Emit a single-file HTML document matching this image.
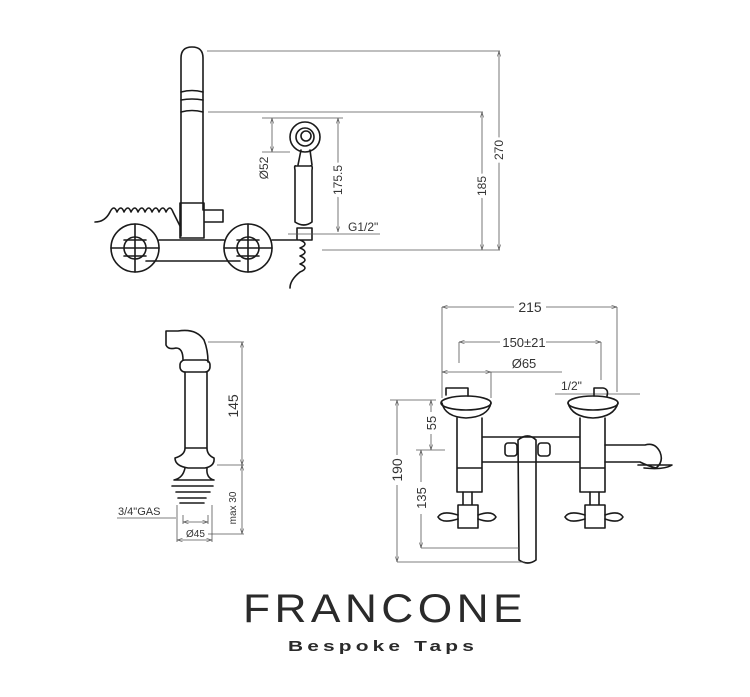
<!DOCTYPE html>
<html><head><meta charset="utf-8"><style>
html,body{margin:0;padding:0;background:#fff;width:750px;height:697px;overflow:hidden}
svg{display:block}
.o{fill:none;stroke:#1a1a1a;stroke-width:1.6;stroke-linecap:round;stroke-linejoin:round}
.d{fill:none;stroke:#555;stroke-width:0.8}
text{font-family:"Liberation Sans",sans-serif;fill:#333;font-size:12px}
</style></head><body>
<svg width="750" height="697" viewBox="0 0 750 697">
<defs><marker id="a" viewBox="0 0 10 10" refX="10" refY="5" markerWidth="7" markerHeight="7" orient="auto-start-reverse"><path d="M0,2 L10,5 L0,8" fill="none" stroke="#555" stroke-width="1"/></marker></defs>

<!-- TOP VIEW -->
<path class="o" d="M181,236 V58 Q181,47 192,47 Q203,47 203,58 V210"/>
<path class="o" d="M181,92 Q192,89 203,92 M181,100 Q192,98 203,100 M181,112 Q192,109 203,112"/>
<path class="o" d="M180,203 H204 V238 H180 Z M204,210 H223 V222 H204"/>
<path class="o" d="M95,222 Q105,222 110,212 q4,-8 7,0 q4,-8 7,0 q4,-8 7,0 q4,-8 7,0 q4,-8 7,0 q4,-8 7,0 q4,-8 7,0 q4,-8 7,0 q4,-8 7,0 L180,226"/>
<circle class="o" cx="135" cy="248" r="24"/><circle class="o" cx="135" cy="248" r="11"/>
<path class="o" d="M111,248 H159 M135,224 V272 M124,240 H146 M124,256 H146"/>
<circle class="o" cx="248" cy="248" r="24"/><circle class="o" cx="248" cy="248" r="11"/>
<path class="o" d="M224,248 H272 M248,224 V272 M237,240 H259 M237,256 H259"/>
<path class="o" d="M146,261 H240 M159,240 H224 M272,240 H296"/>
<circle class="o" cx="305" cy="137" r="15"/><circle class="o" cx="305" cy="137" r="9"/><circle class="o" cx="306" cy="136" r="5"/>
<path class="o" d="M301,150 L298,165 M310,150 L312,165 M296,166 Q294,165 295,170 V222 Q304,228 312,222 V170 Q313,165 310,166 Z"/>
<path class="o" d="M297,228 H312 V240 H297 Z M300,240 q10,4 0,8 q10,4 0,8 q10,4 0,8 q10,4 0,8 Q290,280 290,288"/>
<path class="d" d="M207,51 H500 M208,112 H483 M322,250 H500 M288,234 H380 M262,118 H343 M262,152 H290"/>
<path class="d" d="M499,51 V250" marker-start="url(#a)" marker-end="url(#a)"/>
<path class="d" d="M482,112 V250" marker-start="url(#a)" marker-end="url(#a)"/>
<path class="d" d="M338,118 V232" marker-start="url(#a)" marker-end="url(#a)"/>
<path class="d" d="M272,118 V152" marker-start="url(#a)" marker-end="url(#a)"/>
<text transform="translate(503,150) rotate(-90)" text-anchor="middle" style="fill:#fff;stroke:#fff;stroke-width:6">270</text>
<text transform="translate(503,150) rotate(-90)" text-anchor="middle">270</text>
<text transform="translate(486,186) rotate(-90)" text-anchor="middle" style="fill:#fff;stroke:#fff;stroke-width:6">185</text>
<text transform="translate(486,186) rotate(-90)" text-anchor="middle">185</text>
<text transform="translate(342,180) rotate(-90)" text-anchor="middle" style="fill:#fff;stroke:#fff;stroke-width:6">175.5</text>
<text transform="translate(342,180) rotate(-90)" text-anchor="middle">175.5</text>
<text transform="translate(268,168) rotate(-90)" text-anchor="middle">Ø52</text>
<text x="348" y="231">G1/2"</text>

<!-- SIDE VIEW -->
<path class="o" d="M166,331 H178 Q196,328 204,340 Q208,350 208,362 M166,331 V345 Q168,350 176,348 Q183,348 183,360"/>
<rect class="o" x="180" y="360" width="30" height="12" rx="5"/>
<path class="o" d="M185,372 V448 M207,372 V448 M185,448 H207 Q207,455 214,458 Q215,466 205,468 H188 Q175,466 175,458 Q185,455 185,448"/>
<path class="o" d="M185,468 Q183,478 174,480 H214 Q206,478 207,468 M172,486 H213 M176,492 H210 M178,498 H206 M180,503 H204"/>
<path class="d" d="M208,342 H244 M217,465 H244 M208,534 H244"/>
<path class="d" d="M242,342 V465" marker-start="url(#a)" marker-end="url(#a)"/>
<path class="d" d="M242,465 V534" marker-start="url(#a)" marker-end="url(#a)"/>
<path class="d" d="M183,522 H208" marker-start="url(#a)" marker-end="url(#a)"/>
<path class="d" d="M177,540 H212" marker-start="url(#a)" marker-end="url(#a)"/>
<path class="d" d="M117,518 H176 M177,505 V542 M212,505 V542 M183,515 V524 M208,515 V524"/>
<text transform="translate(238,406) rotate(-90)" text-anchor="middle" style="font-size:14px">145</text>
<text transform="translate(236,508) rotate(-90)" text-anchor="middle" style="font-size:10px">max 30</text>
<text x="118" y="515" style="font-size:11px">3/4"GAS</text>
<text x="186" y="537" style="font-size:10px">Ø45</text>

<!-- FRONT VIEW -->
<path class="d" d="M442,307 H617" marker-start="url(#a)" marker-end="url(#a)"/>
<rect x="514" y="298" width="32" height="16" fill="#fff"/>
<text x="530" y="312" text-anchor="middle" style="font-size:14px">215</text>
<path class="d" d="M459,342 H601" marker-start="url(#a)" marker-end="url(#a)"/>
<rect x="500" y="333" width="46" height="16" fill="#fff"/>
<text x="524" y="347" text-anchor="middle" style="font-size:13px">150±21</text>
<path class="d" d="M442,372 H491" marker-start="url(#a)" marker-end="url(#a)"/>
<path class="d" d="M491,372 H562 M442,307 V398 M617,307 V392 M459,342 V363 M601,342 V380 M491,372 V398 M555,394 H640"/>
<text x="524" y="368" text-anchor="middle" style="font-size:13px">Ø65</text>
<text x="561" y="390" style="font-size:12px">1/2"</text>
<ellipse class="o" cx="466" cy="403" rx="25" ry="7"/>
<ellipse class="o" cx="593" cy="403" rx="25" ry="7"/>
<path class="o" d="M442,403 Q445,417 466,418 Q488,417 491,403 M568,403 Q572,417 593,418 Q614,417 618,403"/>
<path class="o" d="M446,395 V388 H468 V396 M594,396 V388 H603 Q609,389 607,396"/>
<path class="o" d="M457,418 V492 H482 V418 M580,418 V492 H605 V418 M482,437 H580 M482,462 H580 M457,468 H482 M580,468 H605"/>
<rect class="o" x="505" y="443" width="12" height="13" rx="3"/><rect class="o" x="538" y="443" width="12" height="13" rx="3"/>
<path class="o" d="M518,440 Q528,432 536,440 V560 Q528,566 519,560 Z"/>
<path class="o" d="M605,445 H645 Q655,442 660,452 Q664,462 656,468 Q648,466 640,462 H605 M638,465 H672 Q664,470 644,468"/>
<path class="o" d="M463,492 V505 H472 V492 M590,492 V505 H599 V492 M458,505 H478 V528 H458 Z M585,505 H605 V528 H585 Z"/>
<path class="o" d="M438,517 Q442,510 458,515 M478,515 Q492,510 496,517 Q492,524 478,519 M458,519 Q442,524 438,517 M565,517 Q569,510 585,515 M605,515 Q619,510 623,517 Q619,524 605,519 M585,519 Q569,524 565,517"/>
<path class="d" d="M390,400 H436 M416,450 H445 M421,548 H520 M397,562 H525"/>
<path class="d" d="M397,400 V562" marker-start="url(#a)" marker-end="url(#a)"/>
<path class="d" d="M431,400 V450" marker-start="url(#a)" marker-end="url(#a)"/>
<path class="d" d="M421,450 V548" marker-start="url(#a)" marker-end="url(#a)"/>
<rect x="388" y="455" width="18" height="30" fill="#fff"/><rect x="423" y="412" width="16" height="22" fill="#fff"/><rect x="413" y="482" width="16" height="32" fill="#fff"/>
<text transform="translate(402,470) rotate(-90)" text-anchor="middle" style="font-size:14px">190</text>
<text transform="translate(436,423) rotate(-90)" text-anchor="middle" style="font-size:13px">55</text>
<text transform="translate(426,498) rotate(-90)" text-anchor="middle" style="font-size:13px">135</text>

<!-- LOGO -->
<text x="385" y="622" text-anchor="middle" textLength="284" lengthAdjust="spacingAndGlyphs" style="font-size:40px;fill:#2a2a2a;letter-spacing:4px">FRANCONE</text>
<text x="383" y="651" text-anchor="middle" textLength="190" lengthAdjust="spacingAndGlyphs" style="font-size:15px;font-weight:bold;fill:#2a2a2a;letter-spacing:3px">Bespoke Taps</text>
</svg>
</body></html>
